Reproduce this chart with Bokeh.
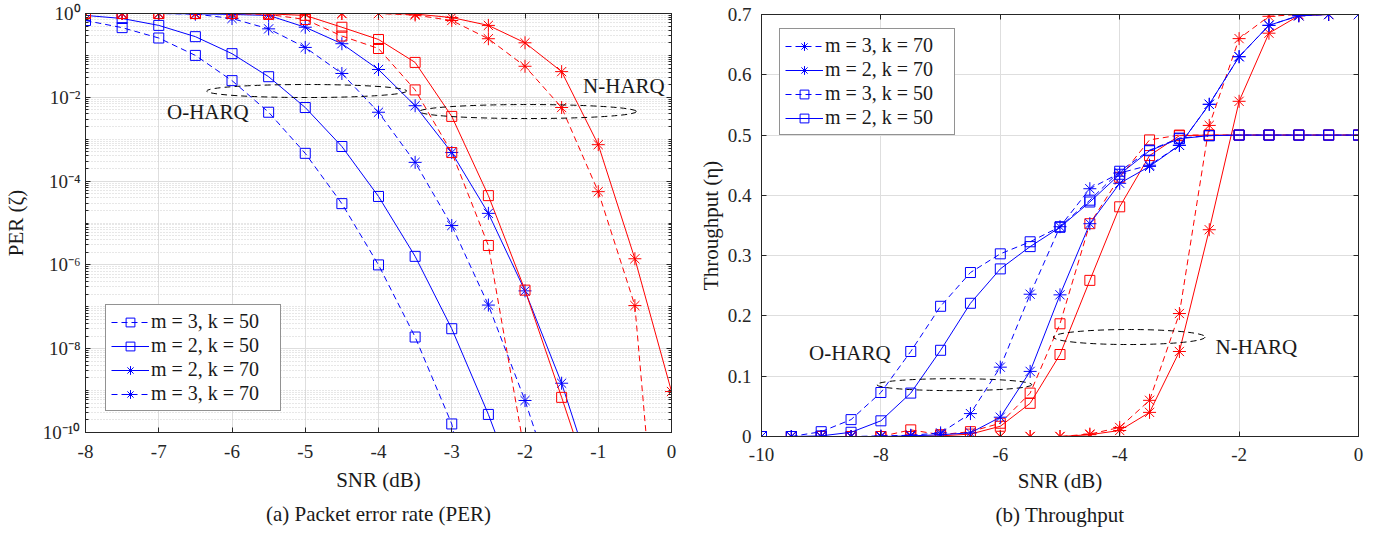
from bokeh.plotting import figure
from bokeh.layouts import row, column
from bokeh.models import (Legend, LegendItem, FixedTicker, CustomJSTickFormatter,
                          LogAxis, LinearAxis, Title, Label, Range1d)
from bokeh.embed import file_html
from bokeh.resources import INLINE

nan = float("nan")

# ---------------- data: (a) PER ----------------
snr_per = [-8.0, -7.5, -7.0, -6.5, -6.0, -5.5, -5.0, -4.5, -4.0, -3.5, -3.0, -2.5, -2.0, -1.5, -1.0, -0.5, 0.0]
per_o_m3_k50 = [0.68, 0.46, 0.26, 0.10, 0.025, 4.4e-3, 4.6e-4, 2.9e-5, 1.0e-6, 1.9e-8, 1.6e-10, 1e-14, nan, nan, nan, nan, nan]
per_o_m2_k50 = [0.9, 0.76, 0.52, 0.28, 0.11, 0.031, 5.7e-3, 6.7e-4, 4.3e-5, 1.6e-6, 3e-8, 2.7e-10, 1.3e-12, nan, nan, nan, nan]
per_o_m2_k70 = [1, 1, 1, 0.98, 0.95, 0.9, 0.47, 0.19, 0.046, 6.3e-3, 4.8e-4, 1.7e-5, 2.4e-7, 1.5e-9, 3e-12, nan, nan]
per_o_m3_k70 = [1, 1, 1, 0.97, 0.76, 0.43, 0.155, 0.037, 4.4e-3, 2.8e-4, 8.7e-6, 1.1e-7, 5.8e-10, 1.3e-12, nan, nan, nan]
per_n_m2_k50 = [1, 1, 1, 1, 1, 0.98, 0.9, 0.47, 0.24, 0.068, 3.5e-3, 4.5e-5, 2.5e-7, 6.9e-10, 1.6e-12, nan, nan]
per_n_m3_k50 = [1, 1, 1, 1, 1, 0.95, 0.72, 0.29, 0.146, 0.015, 4.8e-4, 2.9e-6, 3e-11, nan, nan, nan, nan]
per_n_m2_k70 = [1, 1, 1, 1, 1, 1, 1, 1, 1, 0.97, 0.8, 0.52, 0.2, 0.041, 7.4e-4, 1.4e-6, 9.5e-10]
per_n_m3_k70 = [1, 1, 1, 1, 1, 1, 1, 1, 1, 0.92, 0.68, 0.25, 0.055, 5.7e-3, 5.6e-5, 1.07e-7, 1e-17]

# ---------------- data: (b) Throughput ----------------
snr_thr = [-10.0, -9.5, -9.0, -8.5, -8.0, -7.5, -7.0, -6.5, -6.0, -5.5, -5.0, -4.5, -4.0, -3.5, -3.0, -2.5, -2.0, -1.5, -1.0, -0.5, 0.0]
thr_o_m3_k70 = [0, 0, 0, 0, 0.001, 0.002, 0.006, 0.038, 0.115, 0.236, 0.348, 0.411, 0.437, 0.450, 0.483, 0.551, 0.630, 0.682, 0.698, 0.700, 0.700]
thr_o_m2_k70 = [0, 0, 0, 0, 0, 0.001, 0.003, 0.006, 0.032, 0.108, 0.235, 0.353, 0.420, 0.448, 0.483, 0.551, 0.630, 0.682, 0.698, 0.700, 0.700]
thr_o_m3_k50 = [0, 0, 0.008, 0.028, 0.073, 0.141, 0.216, 0.272, 0.303, 0.323, 0.348, 0.392, 0.440, 0.475, 0.495, 0.499, 0.5, 0.5, 0.5, 0.5, 0.5]
thr_o_m2_k50 = [0, 0, 0.001, 0.007, 0.026, 0.072, 0.143, 0.221, 0.278, 0.315, 0.347, 0.389, 0.435, 0.474, 0.494, 0.499, 0.5, 0.5, 0.5, 0.5, 0.5]
thr_n_m3_k70 = [0, 0, 0, 0, 0, 0, 0, 0, 0, 0, 0, 0.004, 0.015, 0.060, 0.204, 0.516, 0.660, 0.697, 0.700, 0.700, 0.700]
thr_n_m2_k70 = [0, 0, 0, 0, 0, 0, 0, 0, 0, 0, 0, 0.003, 0.010, 0.040, 0.141, 0.343, 0.556, 0.669, 0.698, 0.700, 0.700]
thr_n_m3_k50 = [0, 0, 0, 0, 0, 0.011, 0.003, 0.008, 0.022, 0.072, 0.187, 0.353, 0.430, 0.492, 0.500, 0.5, 0.5, 0.5, 0.5, 0.5, 0.5]
thr_n_m2_k50 = [0, 0, 0, 0, 0, 0, 0.001, 0.004, 0.017, 0.055, 0.136, 0.259, 0.381, 0.466, 0.499, 0.5, 0.5, 0.5, 0.5, 0.5, 0.5]

labels_m3_k50 = "m = 3, k = 50"
labels_m2_k50 = "m = 2, k = 50"
labels_m2_k70 = "m = 2, k = 70"
labels_m3_k70 = "m = 3, k = 70"

FONT = "Liberation Serif"
BLUE = "#0000ff"
RED = "#ff0000"
AX = "#262626"
TXT = "#1a1a1a"
GRID = "#dedede"
DASH = "6 4"


def series(p, x, y, color, dashed, marker):
    ln = p.line(x, y, line_color=color, line_width=1, line_dash=DASH if dashed else "solid")
    if marker == "square":
        sc = p.scatter(x, y, marker="square", size=10, line_color=color, fill_alpha=0, line_width=1)
    else:
        sc = p.scatter(x, y, marker="asterisk", size=13, line_color=color, line_width=1)
    return [ln, sc]


def style_common(p):
    p.outline_line_color = AX
    p.background_fill_color = "white"
    for ax in p.axis:
        ax.axis_line_color = AX
        ax.major_tick_line_color = AX
        ax.minor_tick_line_color = AX
        ax.major_tick_in = 5
        ax.major_tick_out = 0
        ax.minor_tick_in = 0
        ax.minor_tick_out = 0
        ax.major_label_text_font = FONT
        ax.major_label_text_font_size = "19px"
        ax.major_label_text_color = AX
        ax.axis_label_text_font = FONT
        ax.axis_label_text_font_size = "21px"
        ax.axis_label_text_font_style = "normal"
        ax.axis_label_text_color = TXT


def box_axes(p, xticker, yticker, log_y):
    blank = CustomJSTickFormatter(code="return '';")
    top = LinearAxis(ticker=xticker, formatter=blank, major_label_text_font_size="0px", major_label_standoff=0,
                     major_tick_in=5, major_tick_out=0, minor_tick_in=0, minor_tick_out=0,
                     axis_line_color=AX, major_tick_line_color=AX)
    p.add_layout(top, "above")
    RA = LogAxis if log_y else LinearAxis
    right = RA(ticker=yticker, formatter=blank, major_label_text_font_size="0px", major_label_standoff=0,
               major_tick_in=5, major_tick_out=0, minor_tick_in=3 if log_y else 0, minor_tick_out=0,
               axis_line_color=AX, major_tick_line_color=AX, minor_tick_line_color=AX)
    p.add_layout(right, "right")


def caption(p, text, standoff):
    p.add_layout(Title(text=text, text_font=FONT, text_font_size="21px", text_font_style="normal",
                       align="center", text_color=TXT, standoff=standoff), "below")


def annot(p, x, y, text):
    p.add_layout(Label(x=x, y=y, text=text, text_font=FONT, text_font_size="21px",
                       text_align="center", text_baseline="middle", text_color=TXT))


# ================= (a) PER =================
p1 = figure(width=695, height=532, y_axis_type="log",
            x_range=Range1d(-8, 0), y_range=Range1d(1e-10, 1),
            output_backend="svg", toolbar_location=None,
            min_border_left=83, min_border_right=24, min_border_top=13, min_border_bottom=100)

xt1 = FixedTicker(ticks=[-8, -7, -6, -5, -4, -3, -2, -1, 0])
major_y = [10.0 ** e for e in range(-10, 1, 2)]
minor_y = [k * 10.0 ** e for e in range(-10, 0) for k in range(1, 10)]
yt1 = FixedTicker(ticks=major_y, minor_ticks=minor_y)
p1.xaxis.ticker = xt1
p1.yaxis.ticker = yt1
p1.xaxis.formatter = CustomJSTickFormatter(code="return tick.toFixed(0);")
p1.yaxis.formatter = CustomJSTickFormatter(code="""
const e = Math.round(Math.log10(tick));
const m = {"-":"\\u207b","0":"\\u2070","1":"\\u00b9","2":"\\u00b2","3":"\\u00b3","4":"\\u2074",
           "5":"\\u2075","6":"\\u2076","7":"\\u2077","8":"\\u2078","9":"\\u2079"};
return "10" + String(e).split("").map(c => m[c]).join("");
""")
p1.xaxis.axis_label = "SNR (dB)"
p1.yaxis.axis_label = "PER (\u03b6)"
p1.xgrid.grid_line_color = GRID
p1.ygrid.grid_line_color = GRID
p1.ygrid.minor_grid_line_color = "#cfcfcf"
p1.ygrid.minor_grid_line_dash = "1 2"
style_common(p1)
p1.yaxis[0].minor_tick_in = 3
p1.xaxis.major_label_standoff = 12
p1.yaxis.major_label_standoff = 5
p1.xaxis.axis_label_standoff = 7
p1.yaxis.axis_label_standoff = 12
box_axes(p1, xt1, yt1, True)

b1 = series(p1, snr_per, per_o_m3_k50, BLUE, True, "square")
b2 = series(p1, snr_per, per_o_m2_k50, BLUE, False, "square")
b3 = series(p1, snr_per, per_o_m2_k70, BLUE, False, "star")
b4 = series(p1, snr_per, per_o_m3_k70, BLUE, True, "star")
series(p1, snr_per, per_n_m2_k50, RED, False, "square")
series(p1, snr_per, per_n_m3_k50, RED, True, "square")
series(p1, snr_per, per_n_m2_k70, RED, False, "star")
series(p1, snr_per, per_n_m3_k70, RED, True, "star")

p1.ellipse(x=[-4.98], y=[10 ** -1.85], width=200, height=13, width_units="screen", height_units="screen",
           fill_alpha=0, line_color="black", line_width=1, line_dash=DASH)
p1.ellipse(x=[-1.96], y=[10 ** -2.34], width=217, height=14, width_units="screen", height_units="screen",
           fill_alpha=0, line_color="black", line_width=1, line_dash=DASH)
annot(p1, -6.33, 10 ** -2.36, "O-HARQ")
annot(p1, -0.65, 10 ** -1.74, "N-HARQ")

leg1 = Legend(items=[LegendItem(label=labels_m3_k50, renderers=b1),
                     LegendItem(label=labels_m2_k50, renderers=b2),
                     LegendItem(label=labels_m2_k70, renderers=b3),
                     LegendItem(label=labels_m3_k70, renderers=b4)],
              location=(20, 21))
p1.add_layout(leg1)
caption(p1, "(a) Packet error rate (PER)", 10)

# ================= (b) Throughput =================
p2 = figure(width=691, height=532, x_range=Range1d(-10, 0), y_range=Range1d(0, 0.7),
            output_backend="svg", toolbar_location=None,
            min_border_left=62, min_border_right=28, min_border_top=14, min_border_bottom=96)
xt2 = FixedTicker(ticks=[-10, -8, -6, -4, -2, 0])
yt2 = FixedTicker(ticks=[0, 0.1, 0.2, 0.3, 0.4, 0.5, 0.6, 0.7])
p2.xaxis.ticker = xt2
p2.yaxis.ticker = yt2
p2.xaxis.formatter = CustomJSTickFormatter(code="return tick.toFixed(0);")
p2.yaxis.formatter = CustomJSTickFormatter(code="return tick == 0 ? '0' : tick.toFixed(1);")
p2.xaxis.axis_label = "SNR (dB)"
p2.yaxis.axis_label = "Throughput (\u03b7)"
p2.xgrid.grid_line_color = GRID
p2.ygrid.grid_line_color = GRID
style_common(p2)
p2.xaxis.major_label_standoff = 11
p2.yaxis.major_label_standoff = 10
p2.xaxis.axis_label_standoff = 5
p2.yaxis.axis_label_standoff = 2
box_axes(p2, xt2, yt2, False)

series(p2, snr_thr, thr_n_m3_k70, RED, True, "star")
series(p2, snr_thr, thr_n_m2_k70, RED, False, "star")
series(p2, snr_thr, thr_n_m3_k50, RED, True, "square")
series(p2, snr_thr, thr_n_m2_k50, RED, False, "square")
c1 = series(p2, snr_thr, thr_o_m3_k70, BLUE, True, "star")
c2 = series(p2, snr_thr, thr_o_m2_k70, BLUE, False, "star")
c3 = series(p2, snr_thr, thr_o_m3_k50, BLUE, True, "square")
c4 = series(p2, snr_thr, thr_o_m2_k50, BLUE, False, "square")

p2.ellipse(x=[-6.77], y=[0.086], width=155, height=12, width_units="screen", height_units="screen",
           fill_alpha=0, line_color="black", line_width=1, line_dash=DASH)
p2.ellipse(x=[-3.84], y=[0.165], width=152, height=15, width_units="screen", height_units="screen",
           fill_alpha=0, line_color="black", line_width=1, line_dash=DASH)
annot(p2, -8.52, 0.139, "O-HARQ")
annot(p2, -1.71, 0.148, "N-HARQ")

leg2 = Legend(items=[LegendItem(label=labels_m3_k70, renderers=c1),
                     LegendItem(label=labels_m2_k70, renderers=c2),
                     LegendItem(label=labels_m3_k50, renderers=c3),
                     LegendItem(label=labels_m2_k50, renderers=c4)],
              location=(18, 301))
p2.add_layout(leg2)
caption(p2, "(b) Throughput", 10)

for lg in (leg1, leg2):
    lg.label_text_font = FONT
    lg.label_text_font_size = "20px"
    lg.label_text_color = TXT
    lg.border_line_color = AX
    lg.border_line_width = 1
    lg.background_fill_color = "white"
    lg.background_fill_alpha = 1
    lg.glyph_width = 38
    lg.glyph_height = 22
    lg.label_height = 22
    lg.label_width = 124
    lg.label_standoff = 2
    lg.spacing = 1
    lg.padding = 5
    lg.margin = 0

layout = row(column(p1), column(p2))
open("out.html", "w", encoding="utf-8").write(file_html(layout, INLINE))
